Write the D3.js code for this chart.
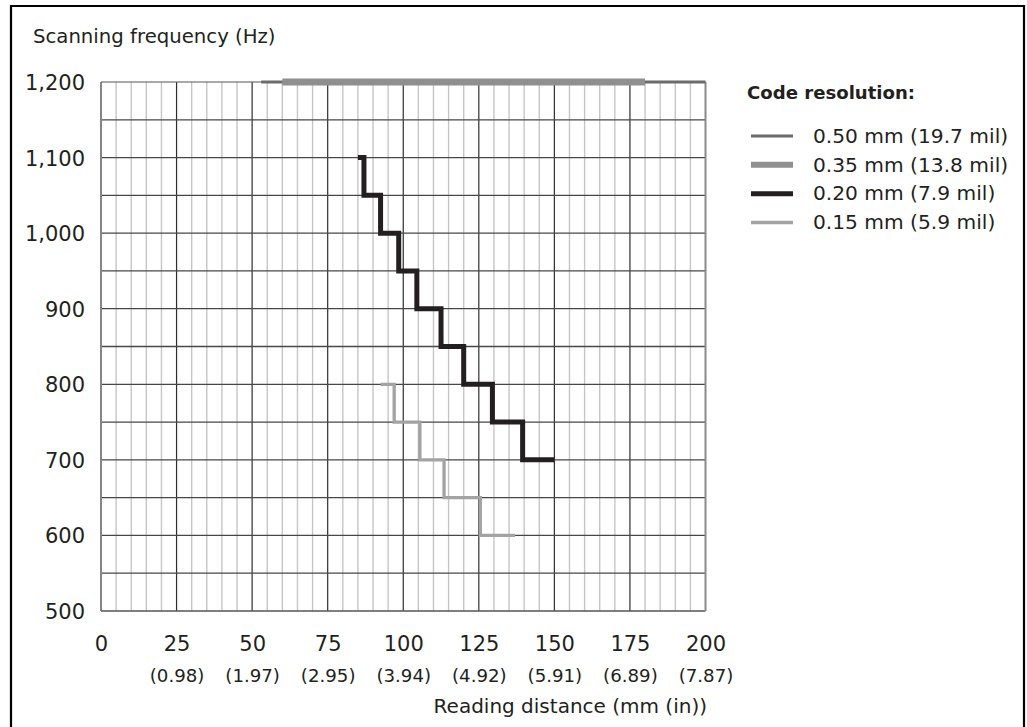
<!DOCTYPE html>
<html>
<head>
<meta charset="utf-8">
<script src="https://cdn.jsdelivr.net/npm/d3@7"></script>
<style>
  html, body { margin: 0; padding: 0; background: #fff; }
  svg { display: block; }
  text { font-family: "DejaVu Sans", sans-serif; fill: #231f20; }
</style>
</head>
<body>
<svg id="chart" width="1027" height="727"></svg>
<script>
// ---- data ----
const xTicks = [0, 25, 50, 75, 100, 125, 150, 175, 200];
const xInchLabels = ["", "(0.98)", "(1.97)", "(2.95)", "(3.94)", "(4.92)", "(5.91)", "(6.89)", "(7.87)"];
const yTicks = [500, 600, 700, 800, 900, 1000, 1100, 1200];

const legendLabels = ["0.50 mm (19.7 mil)", "0.35 mm (13.8 mil)", "0.20 mm (7.9 mil)", "0.15 mm (5.9 mil)"];
const seriesColors = ["#6b6b6b", "#8f8f8f", "#231f20", "#a3a3a3"];
const seriesWidths = [3.2, 7, 5, 3.3];

// 0.50 mm: flat at 1,200 Hz
const res050Dist = [53, 200];
const res050Freq = [1200, 1200];
// 0.35 mm: flat at 1,200 Hz
const res035Dist = [60, 180];
const res035Freq = [1200, 1200];
// 0.20 mm: stepped - frequency levels and the max reading distance at each level
const res020Start = 85;
const res020Freq = [1100, 1050, 1000, 950, 900, 850, 800, 750, 700];
const res020MaxDist = [87, 92.5, 98.5, 104.5, 112.5, 120, 129.5, 139.5, 150];
// 0.15 mm: stepped
const res015Start = 92.5;
const res015Freq = [800, 750, 700, 650, 600];
const res015MaxDist = [97, 105.5, 113.5, 125.5, 137];

// ---- layout ----
const svg = d3.select("#chart");
const x = d3.scaleLinear().domain([0, 200]).range([101, 705.5]);
const y = d3.scaleLinear().domain([500, 1200]).range([611, 82]);

// outer frame (open at the bottom)
svg.append("path")
  .attr("d", "M11,740 L11,6 L1024,6 L1024,740")
  .attr("fill", "none").attr("stroke", "#000").attr("stroke-width", 2.2);

// grid
const g = svg.append("g");
const minor = d3.range(5, 200, 5).filter(v => v % 25 !== 0);
g.selectAll(".minor").data(minor).join("line")
  .attr("x1", d => x(d)).attr("x2", d => x(d))
  .attr("y1", y(1200)).attr("y2", y(500))
  .attr("stroke", "#c6c6c6").attr("stroke-width", 1.4);
const major = xTicks.filter(v => v > 0 && v < 200);
g.selectAll(".major").data(major).join("line")
  .attr("x1", d => x(d)).attr("x2", d => x(d))
  .attr("y1", y(1200)).attr("y2", y(500))
  .attr("stroke", "#2e2e2e").attr("stroke-width", 1.2);
const hLines = d3.range(550, 1200, 50);
g.selectAll(".h").data(hLines).join("line")
  .attr("x1", x(0)).attr("x2", x(200))
  .attr("y1", d => y(d)).attr("y2", d => y(d))
  .attr("stroke", "#474747").attr("stroke-width", 1.3);
// plot borders
g.append("line").attr("x1", x(0)).attr("x2", x(200)).attr("y1", y(1200)).attr("y2", y(1200))
  .attr("stroke", "#555").attr("stroke-width", 1.2);
g.append("line").attr("x1", x(0)).attr("x2", x(200)).attr("y1", y(500)).attr("y2", y(500))
  .attr("stroke", "#555").attr("stroke-width", 1.6);
g.append("line").attr("x1", x(0)).attr("x2", x(0)).attr("y1", y(1200)).attr("y2", y(500))
  .attr("stroke", "#858585").attr("stroke-width", 2);
g.append("line").attr("x1", x(200)).attr("x2", x(200)).attr("y1", y(1200)).attr("y2", y(500))
  .attr("stroke", "#8a8a8a").attr("stroke-width", 2);

// axes labels via d3 axes (domain/ticks hidden, labels styled)
const yAxis = svg.append("g").attr("transform", `translate(${x(0)},0)`)
  .call(d3.axisLeft(y).tickValues(yTicks).tickFormat(d3.format(",")).tickSize(0).tickPadding(16));
yAxis.select(".domain").remove();
yAxis.selectAll("text").style("font-family", "DejaVu Sans").style("font-size", "21px")
  .attr("fill", "#231f20").attr("dy", "0.36em");

const xAxis = svg.append("g").attr("transform", `translate(0,${y(500)})`)
  .call(d3.axisBottom(x).tickValues(xTicks).tickFormat(d3.format("d")).tickSize(0).tickPadding(0));
xAxis.select(".domain").remove();
xAxis.selectAll("text").style("font-family", "DejaVu Sans").style("font-size", "21px")
  .attr("fill", "#231f20").attr("y", 40).attr("dy", 0);
xAxis.selectAll(".tick").append("text")
  .text((d, i) => xInchLabels[i])
  .attr("y", 71).attr("text-anchor", "middle")
  .style("font-family", "DejaVu Sans").style("font-size", "18.2px").attr("fill", "#231f20");

// titles
svg.append("text").attr("x", 33).attr("y", 43)
  .style("font-size", "19.7px").text("Scanning frequency (Hz)");
svg.append("text").attr("x", 707).attr("y", 713).attr("text-anchor", "end")
  .style("font-size", "20px").text("Reading distance (mm (in))");

// series
const line = d3.line().x(d => x(d[0])).y(d => y(d[1]));
function stepPoints(start, freqs, maxDist) {
  const pts = [[start, freqs[0]]];
  freqs.forEach((f, i) => {
    pts.push([maxDist[i], f]);
    if (i < freqs.length - 1) pts.push([maxDist[i], freqs[i + 1]]);
  });
  return pts;
}
const seriesPoints = [
  res050Dist.map((d, i) => [d, res050Freq[i]]),
  res035Dist.map((d, i) => [d, res035Freq[i]]),
  stepPoints(res020Start, res020Freq, res020MaxDist),
  stepPoints(res015Start, res015Freq, res015MaxDist)
];
const drawOrder = [0, 1, 3, 2];
drawOrder.forEach(i => {
  svg.append("path").datum(seriesPoints[i])
    .attr("d", line).attr("fill", "none")
    .attr("stroke", seriesColors[i]).attr("stroke-width", seriesWidths[i])
    .attr("stroke-linejoin", "miter").attr("stroke-linecap", "butt");
});

// legend
const leg = svg.append("g");
leg.append("text").attr("x", 747).attr("y", 99)
  .style("font-size", "18.1px").style("font-weight", "bold").text("Code resolution:");
const legY = d3.scaleLinear().domain([0, 3]).range([136, 222.5]);
legendLabels.forEach((lab, i) => {
  leg.append("line").attr("x1", 751).attr("x2", 793)
    .attr("y1", legY(i)).attr("y2", legY(i))
    .attr("stroke", seriesColors[i]).attr("stroke-width", seriesWidths[i] === 7 ? 6 : seriesWidths[i]);
  leg.append("text").attr("x", 813).attr("y", legY(i) + 6.8)
    .style("font-size", "20.2px").text(lab);
});
</script>
</body>
</html>
